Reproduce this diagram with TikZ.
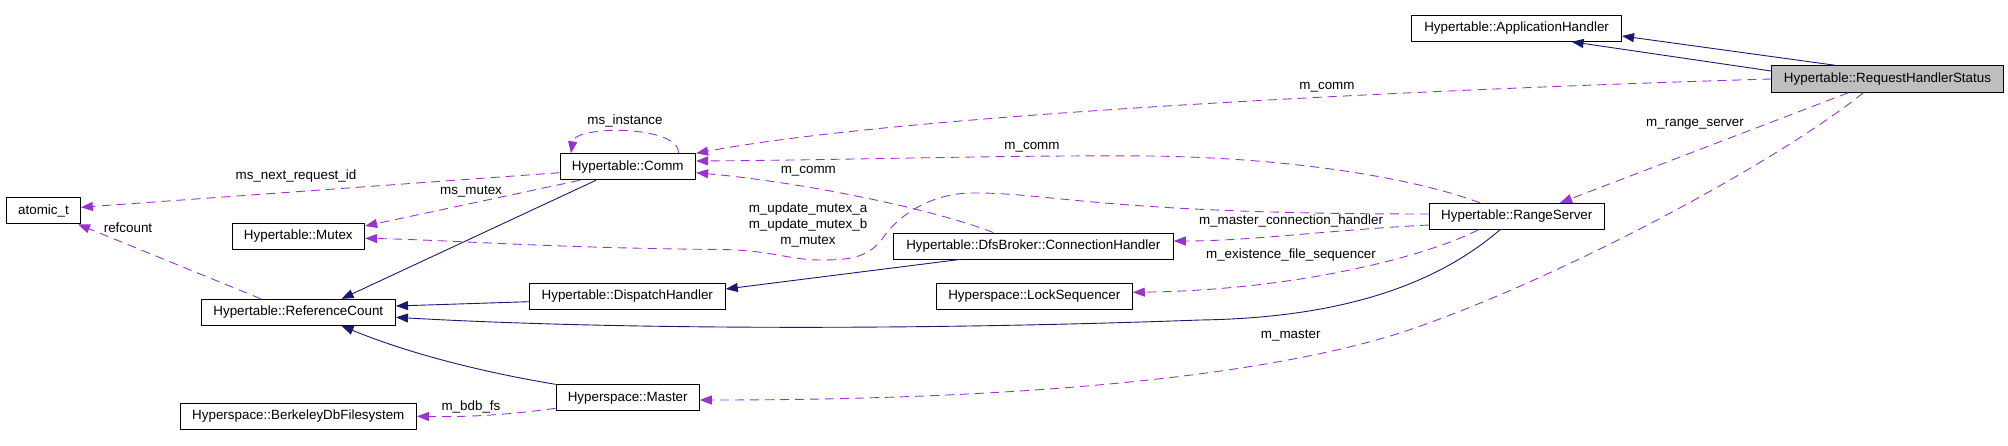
\documentclass[tikz,border=0pt]{standalone}
\usepackage{fontspec}
\setmainfont{Liberation Sans}
\usepackage{tikz}
\usetikzlibrary{arrows.meta,calc,positioning}
\definecolor{midnight}{HTML}{191970}
\definecolor{orchid}{HTML}{9A32CD}
\definecolor{rootgray}{HTML}{BFBFBF}
\tikzset{
  cls/.style={draw=black, fill=white, line width=0.9pt, minimum height=26pt, inner sep=0pt, font=\fontsize{13.4}{16}\selectfont},
  inherit/.style={draw=midnight, line width=0.9pt, -{Triangle[length=12pt,width=9pt]}},
  usage/.style={draw=orchid, line width=0.9pt, dash pattern=on 9pt off 6pt, -{Triangle[length=12pt,width=9pt]}},
  lbl/.style={inner sep=0pt, font=\fontsize{13.4}{16}\selectfont}
}

\begin{document}
\begin{tikzpicture}[x=1pt,y=-1pt]
      \useasboundingbox (0,0) rectangle (2008,445);
      % Classes
      \node[cls, minimum width=210pt] (apphandler) at (1516.6,28.3) {Hypertable::ApplicationHandler};
      \node[cls, fill=rootgray, minimum width=231.6pt, minimum height=26.6pt] (rhstatus) at (1887.5,79) {Hypertable::RequestHandlerStatus};
      \node[cls, minimum width=135.7pt] (comm) at (627.8,166.8) {Hypertable::Comm};
      \node[cls, minimum width=73.7pt] (atomic) at (43.5,210.8) {atomic\_t};
      \node[cls, minimum width=132.7pt] (mutex) at (298.3,236.3) {Hypertable::Mutex};
      \node[cls, minimum width=280pt] (connhandler) at (1033.3,246) {Hypertable::DfsBroker::ConnectionHandler};
      \node[cls, minimum width=175pt] (rangeserver) at (1516.8,216.3) {Hypertable::RangeServer};
      \node[cls, minimum width=196pt] (dispatch) at (627.3,296.3) {Hypertable::DispatchHandler};
      \node[cls, minimum width=196pt] (locksequencer) at (1034.3,296.3) {Hyperspace::LockSequencer};
      \node[cls, minimum width=194.5pt] (refcount) at (298.3,312.3) {Hypertable::ReferenceCount};
      \node[cls, minimum width=143.3pt] (master) at (627.7,397.8) {Hyperspace::Master};
      \node[cls, minimum width=236.5pt] (bdbfs) at (298.3,416.3) {Hyperspace::BerkeleyDbFilesystem};
      % Inheritance
      \draw[inherit] ([xshift=-52.5pt]rhstatus.north) -- ([yshift=-7.7pt]apphandler.east);
      \draw[inherit] ([yshift=8pt]rhstatus.west) -- ([xshift=55pt]apphandler.south);
      \draw[inherit] ([xshift=-31.8pt]comm.south) -- ([xshift=43.2pt]refcount.north);
      \draw[inherit] ([yshift=-5.4pt]dispatch.west) -- ([yshift=6.3pt]refcount.east);
      \draw[inherit] ([xshift=-73.3pt]connhandler.south) -- ([yshift=7.3pt]dispatch.east);
      \draw[inherit] ([xshift=-16.8pt]rangeserver.south) .. controls (1430,290) and (1330,318) .. (1200,320) .. controls (900,331) and (600,329) .. ([yshift=-5pt]refcount.east);
      \draw[inherit] (master.north west) .. controls (470,370) and (400,350) .. ([xshift=43.2pt]refcount.south);
      % Members
      \draw[usage] (rhstatus.west) .. controls (1400,90) and (900,115) .. (comm.north east);
      \draw[usage] ([xshift=50.8pt]comm.north) .. controls (680,125) and (575,125) .. ([xshift=-56.8pt]comm.north);
      \draw[usage] ([yshift=-5.9pt]comm.west) -- ([yshift=3.5pt]atomic.east);
      \draw[usage] ([xshift=-47.8pt]comm.south) -- ([yshift=10.3pt]mutex.east);
      \draw[usage] ([yshift=2.3pt]rangeserver.west) .. controls (1100,214) and (1050,192) .. (970,193) .. controls (930,194) and (900,215) .. (885,235) .. controls (870,258) and (850,260) .. (820,260) .. controls (790,260) and (770,250) .. (720,249.5) .. controls (550,248) and (450,240) .. ([yshift=-2pt]mutex.east);
      \draw[usage] ([xshift=-36.8pt]rangeserver.north) .. controls (1420,180) and (1300,158) .. (1150,156) .. controls (1000,155) and (850,160) .. ([yshift=5.8pt]comm.east);
      \draw[usage] ([xshift=-40pt]connhandler.north) .. controls (930,208) and (800,182) .. ([yshift=-5.9pt]comm.east);
      \draw[usage] ([yshift=-8.7pt]rangeserver.west) .. controls (1330,230) and (1250,241) .. ([yshift=5pt]connhandler.east);
      \draw[usage] ([xshift=-38.5pt]rangeserver.south) .. controls (1430,255) and (1300,290) .. ([yshift=4pt]locksequencer.east);
      \draw[usage] ([xshift=-37.3pt]refcount.north) -- ([xshift=34.5pt]atomic.south);
      \draw[usage] ([yshift=-10.5pt]master.west) .. controls (500,416) and (460,417) .. (bdbfs.east);
      \draw[usage] ([xshift=-39.2pt]rhstatus.south) -- ([xshift=43.2pt]rangeserver.north);
      \draw[usage] ([xshift=-24.2pt]rhstatus.south) .. controls (1780,160) and (1560,280) .. (1400,333) .. controls (1250,380) and (1000,400) .. ([yshift=-2.2pt]master.east);
      % Labels
      \node[lbl] (lcomma) at (1327,87.3) {m\_comm};
      \node[lbl] (linstance) at (625,120.7) {ms\_instance};
      \node[lbl] (lnextid) at (296,176) {ms\_next\_request\_id};
      \node[lbl] (lmsmutex) at (471,191.7) {ms\_mutex};
      \node[lbl] (lcommb) at (1032,147.7) {m\_comm};
      \node[lbl] (lcommc) at (808.3,171.7) {m\_comm};
      \node[lbl, align=center] (lmutexes) at (808,225) {m\_update\_mutex\_a\\m\_update\_mutex\_b\\m\_mutex};
      \node[lbl] (lrangeserver) at (1695,124) {m\_range\_server};
      \node[lbl] (lconnhandler) at (1291,220.7) {m\_master\_connection\_handler};
      \node[lbl] (lsequencer) at (1291,255) {m\_existence\_file\_sequencer};
      \node[lbl] (lmaster) at (1290.7,335) {m\_master};
      \node[lbl] (lrefcount) at (128,227.7) {refcount};
      \node[lbl] (lbdbfs) at (471,406.7) {m\_bdb\_fs};
    \end{tikzpicture}
\end{document}
